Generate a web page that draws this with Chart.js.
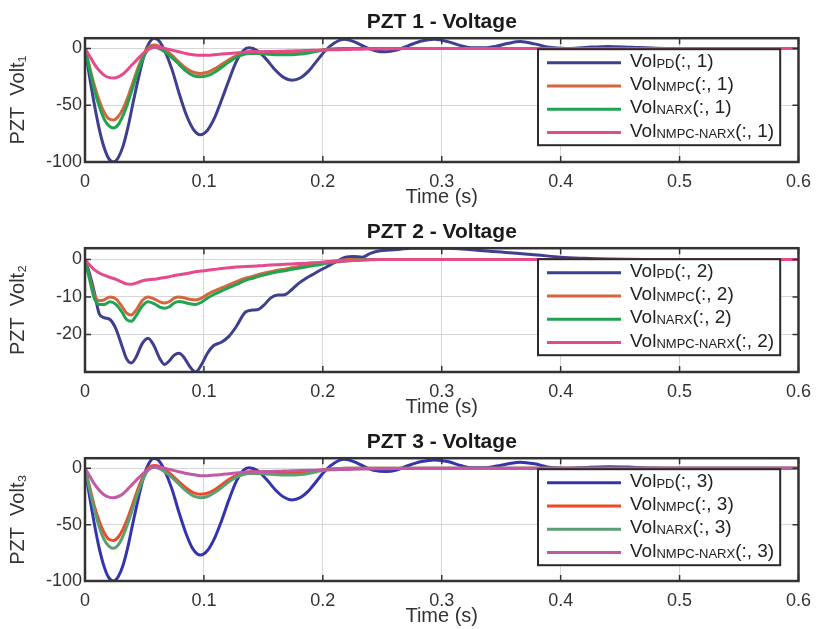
<!DOCTYPE html>
<html>
<head>
<meta charset="utf-8">
<script src="https://cdn.jsdelivr.net/npm/chart.js@4.4.0/dist/chart.umd.min.js"></script>
<style>
  body { margin: 0; background: #fff; }
  canvas { display: block; }
</style>
</head>
<body>
<canvas id="pzt1" width="820" height="210"></canvas>
<canvas id="pzt2" width="820" height="210"></canvas>
<canvas id="pzt3" width="820" height="209"></canvas>
<script>
// ---- data ----
const xTicks = [0, 0.1, 0.2, 0.3, 0.4, 0.5, 0.6];
const seriesNames = ['PD', 'NMPC', 'NARX', 'NMPC-NARX'];

// PZT 1 and PZT 3 share the same time samples
const time13 = [0, 0.004, 0.008, 0.012, 0.016, 0.02, 0.024, 0.028, 0.032, 0.036,
  0.04, 0.045, 0.05, 0.054, 0.058, 0.062, 0.067, 0.073, 0.079, 0.085,
  0.091, 0.097, 0.103, 0.109, 0.115, 0.121, 0.127, 0.133, 0.138, 0.145,
  0.152, 0.16, 0.167, 0.174, 0.181, 0.188, 0.195, 0.202, 0.21, 0.218,
  0.226, 0.235, 0.244, 0.253, 0.262, 0.272, 0.283, 0.294, 0.305, 0.316,
  0.326, 0.336, 0.346, 0.356, 0.366, 0.378, 0.39, 0.405, 0.42, 0.44,
  0.46, 0.48, 0.5, 0.53, 0.56, 0.6];

const pd1 = [0, -26, -50, -71, -87, -97, -100, -96, -86, -70,
  -50, -26, -5, 5, 9, 7, -2, -18, -39, -58,
  -71, -76, -72, -61, -45, -28, -12, -2, 0.5, -2,
  -9, -19, -25.5, -28, -26, -20, -11, -2, 5, 8,
  6, 1.5, -2, -3, -1.5, 2.5, 6.5, 8, 6, 2.5,
  0.5, 0.5, 2, 4.5, 6, 4, 1, 0, 0.8, 1.8,
  1, 0.2, 0, 0, 0, 0];
const nmpc1 = [0, -17, -33, -46, -56, -62, -63, -60, -53, -43,
  -31, -16, -4, 1.5, 3, 2, -1, -6, -12, -17.5,
  -21, -22, -21, -18, -14, -10, -6.5, -4, -3, -3,
  -3.5, -4, -4, -4, -3.7, -3, -2, -1, -0.4, 0,
  0, 0, 0, 0, 0, 0, 0, 0, 0, 0,
  0, 0, 0, 0, 0, 0, 0, 0, 0, 0,
  0, 0, 0, 0, 0, 0];
const narx1 = [0, -19, -37, -51, -62, -68, -70, -67, -59, -48,
  -35, -19, -6, 0, 1, 0, -3, -8, -14, -20,
  -24, -25, -24, -21, -16.5, -12, -8, -5.5, -4.5, -4.5,
  -5, -5.5, -5.5, -5.5, -5, -4, -2.5, -1.2, -0.4, 0,
  0, 0, 0, 0, 0, 0, 0, 0, 0, 0,
  0, 0, 0, 0, 0, 0, 0, 0, 0, 0,
  0, 0, 0, 0, 0, 0];
const mix1 = [0, -7, -14, -19.5, -23.5, -25.5, -26, -25, -22.5, -18.5,
  -14, -8.5, -3.5, -0.5, 1, 1, 0, -1.5, -3, -4.5,
  -5.5, -6, -6, -5.5, -5, -4.5, -4, -3.5, -3, -3,
  -2.8, -2.6, -2.4, -2.2, -2, -1.8, -1.6, -1.4, -1.2, -1,
  -0.8, -0.6, -0.4, -0.3, -0.2, -0.1, 0, 0, 0, 0,
  0, 0, 0, 0, 0, 0, 0, 0, 0, 0,
  0, 0, 0, 0, 0, 0];

const time2 = [0, 0.004, 0.008, 0.012, 0.016, 0.021, 0.026, 0.031, 0.035, 0.039,
  0.043, 0.048, 0.053, 0.058, 0.063, 0.067, 0.071, 0.075, 0.079, 0.083,
  0.088, 0.093, 0.098, 0.103, 0.108, 0.115, 0.121, 0.127, 0.135, 0.141,
  0.146, 0.151, 0.156, 0.162, 0.168, 0.174, 0.18, 0.186, 0.191, 0.197,
  0.203, 0.21, 0.219, 0.226, 0.233, 0.24, 0.248, 0.256, 0.265, 0.274,
  0.286, 0.299, 0.31, 0.32, 0.335, 0.35, 0.365, 0.38, 0.4, 0.42,
  0.44, 0.47, 0.5, 0.55, 0.6];

const pd2 = [0, -4, -9, -14.5, -15.5, -16, -18.5, -23, -26.5, -27.6,
  -26, -22.5, -21, -23, -26.5, -28, -27, -25.5, -25, -26,
  -28.5, -30, -28, -25, -23, -22, -20.5, -18, -14, -13.5,
  -13.3, -12, -10.3, -9.5, -9.4, -8, -6.3, -5, -4.1, -3,
  -2, -0.8, 0.6, 0.8, 0.6, 1.6, 2.3, 2.5, 2.7, 3,
  3, 3, 2.9, 2.7, 2.3, 2, 1.6, 1.2, 0.6, 0.3,
  0.1, 0, 0, 0, 0];
const nmpc2 = [0, -5, -9.5, -11, -10.8, -10, -10.5, -12.5, -14.3, -14.8,
  -13.5, -11, -10, -10.5, -11.3, -11.6, -11.2, -10.3, -10, -10.2,
  -10.6, -10.8, -10.3, -9.3, -8.5, -7.6, -6.8, -6, -5, -4.5,
  -4, -3.6, -3.3, -2.9, -2.6, -2.2, -1.9, -1.6, -1.4, -1.1,
  -0.7, -0.4, -0.1, 0, 0, 0, 0, 0, 0, 0,
  0, 0, 0, 0, 0, 0, 0, 0, 0, 0,
  0, 0, 0, 0, 0];
const narx2 = [0, -5.5, -10.5, -12, -12, -11.3, -12, -14, -16, -16.5,
  -15, -12.5, -11.3, -11.8, -12.7, -13, -12.6, -11.6, -11.2, -11.4,
  -11.8, -12, -11.4, -10.3, -9.4, -8.4, -7.5, -6.7, -5.6, -5,
  -4.5, -4.1, -3.7, -3.3, -3, -2.6, -2.3, -2, -1.7, -1.4,
  -1, -0.7, -0.4, -0.2, -0.1, 0, 0, 0, 0, 0,
  0, 0, 0, 0, 0, 0, 0, 0, 0, 0,
  0, 0, 0, 0, 0];
const mix2 = [0, -1.5, -2.8, -3.6, -4.2, -4.8, -5.3, -6, -6.5, -6.6,
  -6.3, -5.7, -5.4, -5.3, -5, -4.8, -4.6, -4.3, -4.1, -3.9,
  -3.6, -3.3, -3.1, -2.9, -2.7, -2.4, -2.2, -2, -1.9, -1.8,
  -1.7, -1.6, -1.5, -1.4, -1.3, -1.2, -1.1, -1, -0.9, -0.8,
  -0.6, -0.5, -0.4, -0.3, -0.2, -0.1, 0, 0, 0, 0,
  0, 0, 0, 0, 0, 0, 0, 0, 0, 0,
  0, 0, 0, 0, 0];

const pd3 = [0, -26, -50, -71, -87, -97, -100, -96, -86, -70,
  -50, -26, -5, 5, 9, 7, -2, -18, -39, -58,
  -72, -77, -73, -62, -46, -28, -12, -2, 0.5, -2,
  -9, -19, -25.5, -28, -26, -20, -11, -2, 5, 8,
  6, 1.5, -2, -2.8, -1.5, 2.5, 6, 7.5, 6, 2.5,
  0.5, 0.5, 2, 4, 5.5, 4, 1, 0, 0.8, 1.5,
  1, 0.2, 0, 0, 0, 0];
const nmpc3 = [0, -17, -34, -47, -57, -63, -64, -61, -54, -44,
  -32, -17, -5, 1, 2.5, 2, -1, -6, -12, -17.5,
  -21.5, -23, -22, -19, -14.5, -10, -6.5, -4, -3, -3,
  -3.5, -4, -4.5, -4.5, -4, -3, -2, -1, -0.4, 0,
  0, 0, 0, 0, 0, 0, 0, 0, 0, 0,
  0, 0, 0, 0, 0, 0, 0, 0, 0, 0,
  0, 0, 0, 0, 0, 0];
const narx3 = [0, -19, -37, -52, -63, -69, -71, -68, -60, -49,
  -36, -20, -7, -0.5, 1, 0, -3, -8, -14, -20,
  -24.5, -26, -25, -21.5, -17, -12, -8, -5.5, -4.5, -4.5,
  -5, -5.5, -6, -6, -5.5, -4.5, -3, -1.5, -0.5, 0,
  0, 0, 0, 0, 0, 0, 0, 0, 0, 0,
  0, 0, 0, 0, 0, 0, 0, 0, 0, 0,
  0, 0, 0, 0, 0, 0];
const mix3 = [0, -7, -14, -19.5, -23.5, -25.5, -26, -25, -22.5, -18.5,
  -14, -8.5, -3.5, -0.5, 1, 1, 0, -1.5, -3, -4.5,
  -5.5, -6.5, -6.5, -6, -5.5, -4.8, -4.2, -3.6, -3.2, -3,
  -2.8, -2.6, -2.4, -2.2, -2, -1.8, -1.6, -1.4, -1.2, -1,
  -0.8, -0.6, -0.4, -0.3, -0.2, -0.1, 0, 0, 0, 0,
  0, 0, 0, 0, 0, 0, 0, 0, 0, 0,
  0, 0, 0, 0, 0, 0];

const colors12 = ['#3f3f8f', '#d4653c', '#21a352', '#e44a8c'];
const colors3 = ['#3434b0', '#ee4a24', '#5b9f72', '#c05aa6'];

const fontFamily = '"Liberation Sans", Arial, sans-serif';

// MATLAB style box with inward ticks
const boxPlugin = {
  id: 'box',
  afterDraw(chart) {
    const ctx = chart.ctx;
    const a = chart.chartArea;
    const x = chart.scales.x, y = chart.scales.y;
    ctx.save();
    ctx.strokeStyle = '#333';
    ctx.lineWidth = 1.5;
    ctx.beginPath();
    x.ticks.forEach(t => {
      const px = x.getPixelForValue(t.value);
      ctx.moveTo(px, a.bottom); ctx.lineTo(px, a.bottom - 6);
      ctx.moveTo(px, a.top); ctx.lineTo(px, a.top + 6);
    });
    y.ticks.forEach(t => {
      const py = y.getPixelForValue(t.value);
      ctx.moveTo(a.left, py); ctx.lineTo(a.left + 6, py);
      ctx.moveTo(a.right, py); ctx.lineTo(a.right - 6, py);
    });
    ctx.stroke();
    ctx.lineWidth = 2.5;
    ctx.strokeRect(a.left, a.top, a.right - a.left, a.bottom - a.top);
    ctx.restore();
  }
};

// legend with subscripts, drawn inside the axes
const subLegend = {
  id: 'subLegend',
  afterDatasetsDraw(chart, args, opts) {
    const ctx = chart.ctx;
    const a = chart.chartArea;
    const big = '19px ' + fontFamily;
    const small = '13px ' + fontFamily;
    const tail = '(:, ' + opts.panel + ')';
    const left = a.left + 453, top = a.top + 11;
    let maxW = 0;
    seriesNames.forEach(n => {
      ctx.font = big;
      let w = ctx.measureText('Vol').width + ctx.measureText(tail).width;
      ctx.font = small;
      w += ctx.measureText(n).width;
      maxW = Math.max(maxW, w);
    });
    const textX = left + 92;
    const width = textX + maxW + 6 - left;
    ctx.save();
    ctx.fillStyle = '#fff';
    ctx.fillRect(left, top, width, 96);
    ctx.strokeStyle = '#2a2a2a';
    ctx.lineWidth = 2;
    ctx.strokeRect(left, top, width, 96);
    chart.data.datasets.forEach((ds, i) => {
      const yy = top + 13.5 + i * 23.3;
      ctx.strokeStyle = ds.borderColor;
      ctx.lineWidth = 3;
      ctx.beginPath();
      ctx.moveTo(left + 9, yy);
      ctx.lineTo(left + 83, yy);
      ctx.stroke();
      ctx.fillStyle = '#222';
      ctx.textBaseline = 'alphabetic';
      ctx.textAlign = 'left';
      const base = yy + 4;
      let tx = textX;
      ctx.font = big;
      ctx.fillText('Vol', tx, base);
      tx += ctx.measureText('Vol').width;
      ctx.font = small;
      ctx.fillText(seriesNames[i], tx, base + 1);
      tx += ctx.measureText(seriesNames[i]).width;
      ctx.font = big;
      ctx.fillText(tail, tx, base);
    });
    ctx.restore();
  }
};

function makePanel(id, panel, time, series, colors, yMin, yMax, yTicks) {
  const sub = ['\u2081', '\u2082', '\u2083'][panel - 1];
  const datasets = series.map((vals, i) => ({
    label: 'Vol' + seriesNames[i],
    data: time.map((t, k) => ({ x: t, y: vals[k] })),
    borderColor: colors[i],
    borderWidth: 3,
    pointRadius: 0,
    cubicInterpolationMode: 'monotone',
    order: 4 - i
  }));
  return new Chart(document.getElementById(id), {
    type: 'line',
    data: { datasets: datasets },
    options: {
      responsive: false,
      animation: false,
      events: [],
      layout: { padding: { left: 0, right: 17, top: 0, bottom: 0 } },
      plugins: {
        legend: { display: false },
        tooltip: { enabled: false },
        title: {
          display: true,
          text: 'PZT ' + panel + ' - Voltage',
          fullSize: false,
          color: '#1a1a1a',
          font: { family: fontFamily, size: 21, weight: 'bold' },
          padding: { top: 10, bottom: 3 }
        },
        subLegend: { panel: panel }
      },
      scales: {
        x: {
          type: 'linear',
          min: 0,
          max: 0.6,
          afterBuildTicks: s => { s.ticks = xTicks.map(v => ({ value: v })); },
          afterFit: s => { s.height = 48; },
          grid: { color: '#d6d6d6', lineWidth: 1, drawTicks: false },
          border: { display: false },
          ticks: {
            color: '#333',
            padding: 9,
            maxRotation: 0,
            font: { family: fontFamily, size: 18 },
            callback: v => String(v)
          },
          title: {
            display: true,
            text: 'Time (s)',
            color: '#333',
            font: { family: fontFamily, size: 20 },
            padding: { top: 0, bottom: 1 }
          }
        },
        y: {
          min: yMin,
          max: yMax,
          afterBuildTicks: s => { s.ticks = yTicks.map(v => ({ value: v })); },
          afterFit: s => { s.width = 85; },
          grid: { color: '#d6d6d6', lineWidth: 1, drawTicks: false },
          border: { display: false },
          ticks: {
            color: '#333',
            padding: 3,
            font: { family: fontFamily, size: 18 },
            callback: v => String(v)
          },
          title: {
            display: true,
            text: 'PZT  Volt' + sub,
            color: '#333',
            font: { family: fontFamily, size: 20 },
            padding: { top: 6, bottom: 0 }
          }
        }
      }
    },
    plugins: [subLegend, boxPlugin]
  });
}

makePanel('pzt1', 1, time13, [pd1, nmpc1, narx1, mix1], colors12, -100, 9, [-100, -50, 0]);
makePanel('pzt2', 2, time2, [pd2, nmpc2, narx2, mix2], colors12, -30, 3, [-20, -10, 0]);
makePanel('pzt3', 3, time13, [pd3, nmpc3, narx3, mix3], colors3, -100, 9, [-100, -50, 0]);
</script>
</body>
</html>
